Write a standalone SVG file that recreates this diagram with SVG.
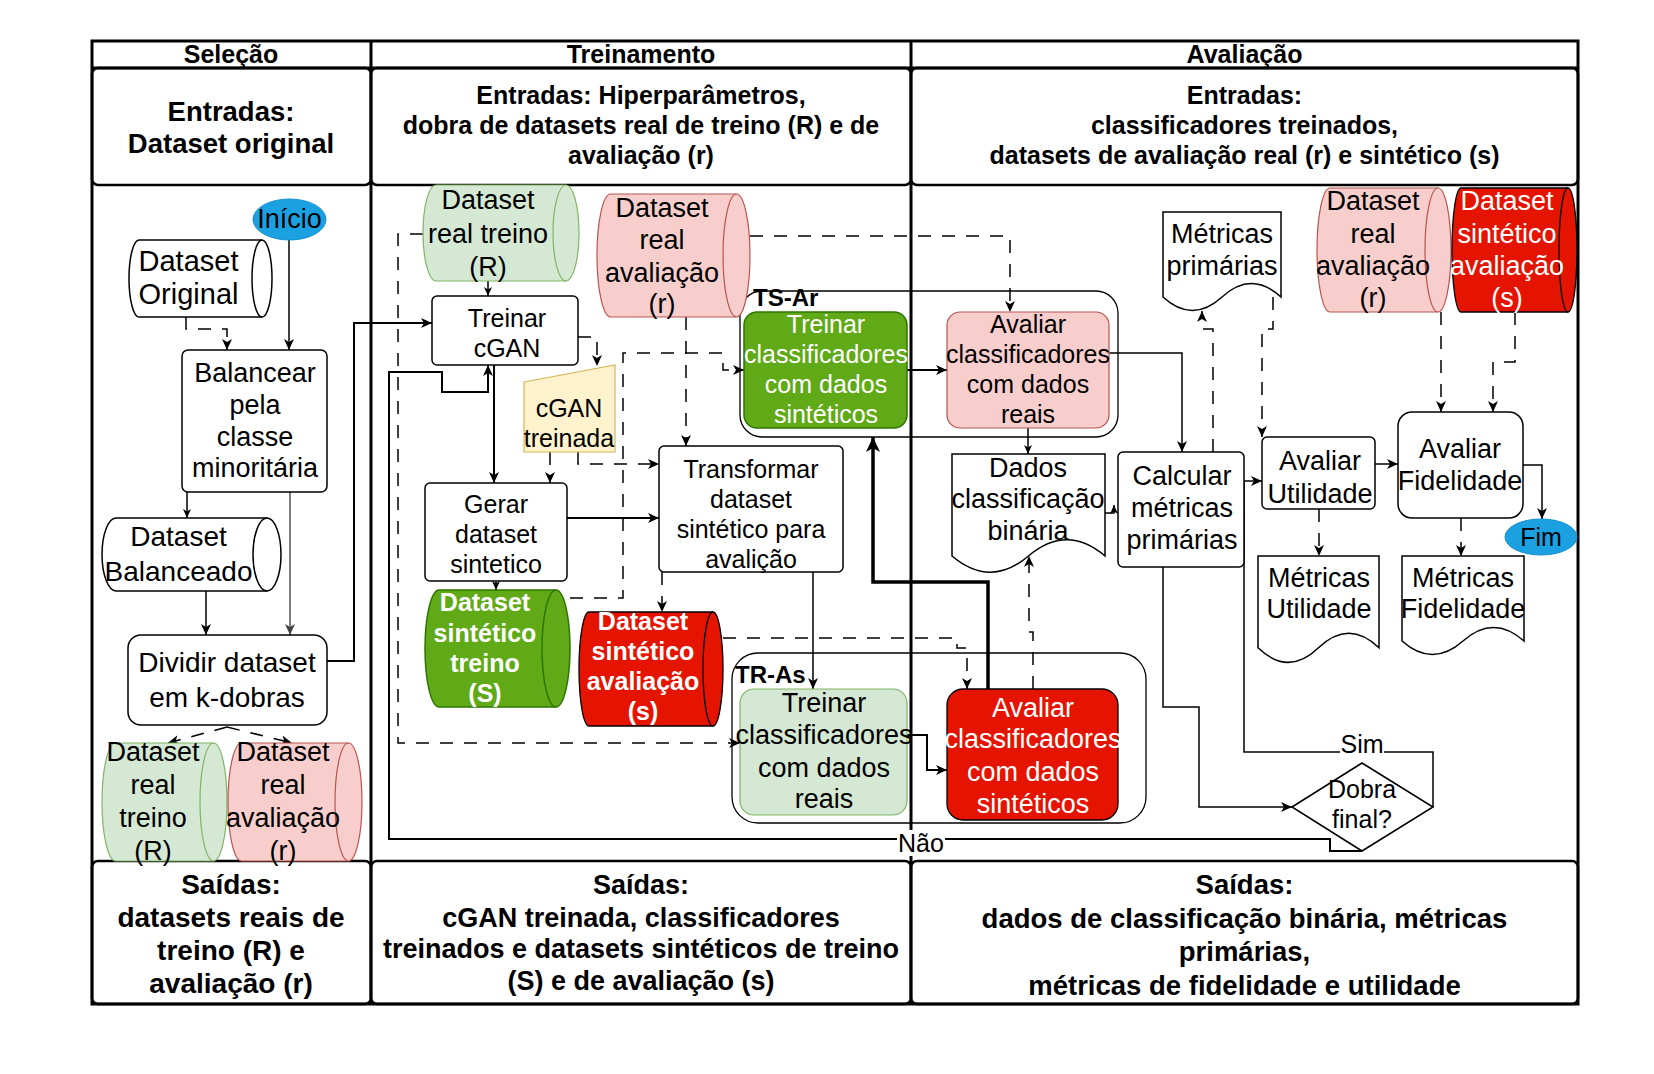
<svg xmlns="http://www.w3.org/2000/svg" width="1654" height="1074" viewBox="0 0 1654 1074">
<defs>
<style>
text{font-family:'Liberation Sans',Arial,Helvetica,sans-serif;text-anchor:middle;fill:#000}
.f25{font-size:25px}.f27{font-size:27px}.f28{font-size:28px}.f29{font-size:29px}
.b{font-weight:bold}.w{fill:#fff}.st{text-anchor:start}
.lane{fill:none;stroke:#000;stroke-width:3}
.cell{fill:#fff;stroke:#000;stroke-width:2.5}
.box{fill:#fff;stroke:#000;stroke-width:1.5}
.cont{fill:none;stroke:#000;stroke-width:1.3}
.blue{fill:#1ba1e2;stroke:#1590d0;stroke-width:1}
.pink{fill:#f8cecc;stroke:#b85450;stroke-width:1.2}
.lgreen{fill:#d5e8d4;stroke:#82b366;stroke-width:1.2}
.green{fill:#60a917;stroke:#2d7600;stroke-width:1.5}
.red{fill:#e51400;stroke:#000;stroke-width:1.3}
.yellow{fill:#fff2cc;stroke:#d6b656;stroke-width:1.2}
.inner{fill:none}
.dash{stroke-dasharray:13 11}
</style>
<marker id="arr" markerUnits="userSpaceOnUse" markerWidth="12" markerHeight="12" refX="11" refY="6" orient="auto"><path d="M0,1 L11,6 L0,11 L3,6 Z" fill="#000"/></marker>
<marker id="arrS" markerUnits="userSpaceOnUse" markerWidth="10" markerHeight="10" refX="9" refY="5" orient="auto"><path d="M0,1 L9,5 L0,9 L2.5,5 Z" fill="#000"/></marker>
<marker id="arrG" markerUnits="userSpaceOnUse" markerWidth="12" markerHeight="12" refX="11" refY="6" orient="auto"><path d="M0,1 L11,6 L0,11 L3,6 Z" fill="#444"/></marker>
<marker id="arrL" markerUnits="userSpaceOnUse" markerWidth="16" markerHeight="16" refX="15" refY="8" orient="auto"><path d="M0,1 L15,8 L0,15 L4,8 Z" fill="#000"/></marker>
</defs>
<rect width="1654" height="1074" fill="#fff"/>

<g id="lanes">
<rect x="92" y="41" width="1486" height="963" fill="#fff" stroke="none"/>
<rect class="cell" x="92" y="68" width="279" height="117" rx="6"/>
<rect class="cell" x="371" y="68" width="540" height="117" rx="6"/>
<rect class="cell" x="911" y="68" width="667" height="117" rx="6"/>
<rect class="cell" x="92" y="861" width="279" height="143" rx="6"/>
<rect class="cell" x="371" y="861" width="540" height="143" rx="6"/>
<rect class="cell" x="911" y="861" width="667" height="143" rx="6"/>
<rect class="lane" x="92" y="41" width="1486" height="963"/>
<line class="lane" x1="92" y1="68" x2="1578" y2="68"/>
<line class="lane" x1="371" y1="41" x2="371" y2="1004"/>
<line class="lane" x1="911" y1="41" x2="911" y2="1004"/>
<text class="f25 b" x="231" y="63">Seleção</text>
<text class="f25 b" x="641" y="63">Treinamento</text>
<text class="f25 b" x="1244.5" y="63">Avaliação</text>
<text class="b" style="font-size:27.5px" x="231" y="121">Entradas:</text>
<text class="b" style="font-size:27.5px" x="231" y="153">Dataset original</text>
<text class="f25 b" x="641" y="104">Entradas: Hiperparâmetros,</text>
<text class="f25 b" x="641" y="134">dobra de datasets real de treino (R) e de</text>
<text class="f25 b" x="641" y="164">avaliação (r)</text>
<text class="f25 b" x="1244.5" y="104">Entradas:</text>
<text class="f25 b" x="1244.5" y="134">classificadores treinados,</text>
<text class="f25 b" x="1244.5" y="164">datasets de avaliação real (r) e sintético (s)</text>
<text class="f28 b" x="231" y="894">Saídas:</text>
<text class="f28 b" x="231" y="927">datasets reais de</text>
<text class="f28 b" x="231" y="960">treino (R) e</text>
<text class="f28 b" x="231" y="993">avaliação (r)</text>
<text class="f27 b" x="641" y="894">Saídas:</text>
<text class="f27 b" x="641" y="927">cGAN treinada, classificadores</text>
<text class="f27 b" x="641" y="958">treinados e datasets sintéticos de treino</text>
<text class="f27 b" x="641" y="990">(S) e de avaliação (s)</text>
<text class="b" style="font-size:27.5px" x="1244.5" y="894">Saídas:</text>
<text class="b" style="font-size:27.5px" x="1244.5" y="928">dados de classificação binária, métricas</text>
<text class="b" style="font-size:27.5px" x="1244.5" y="961">primárias,</text>
<text class="b" style="font-size:27.5px" x="1244.5" y="995">métricas de fidelidade e utilidade</text>
</g>

<g id="containers">
<g id="ts-ar"><rect class="cont" x="740" y="291" width="378" height="146" rx="22"/><text class="b st" style="font-size:24px" x="753" y="306">TS-Ar</text></g>
<g id="tr-as"><rect class="cont" x="732" y="653" width="414" height="170" rx="26"/><text class="b st" style="font-size:24px" x="735" y="683">TR-As</text></g>
</g>

<g id="connectors" fill="none" stroke="#000" stroke-width="1.5">
<path d="M289,240 V350" marker-end="url(#arr)"/>
<path class="dash" d="M186,317 V329 H227 V350" marker-end="url(#arr)"/>
<path d="M187,492 V518" marker-end="url(#arrS)"/>
<path d="M290,492 V635" stroke="#555" marker-end="url(#arrG)"/>
<path d="M206,591 V635" marker-end="url(#arr)"/>
<path d="M327,661 H354 V323 H432" stroke-width="2" marker-end="url(#arr)"/>
<path class="dash" d="M227,727 L168,743" marker-end="url(#arr)"/>
<path class="dash" d="M227,727 L292,743" marker-end="url(#arr)"/>
<path d="M488,281 V296" marker-end="url(#arrS)"/>
<path class="dash" d="M423,234 H398 V743 H740" marker-end="url(#arr)"/>
<path class="dash" d="M578,337 H597 V366" marker-end="url(#arr)"/>
<path d="M494,365 V483" stroke-width="2" marker-end="url(#arr)"/>
<path class="dash" d="M550,452 V483" marker-end="url(#arr)"/>
<path class="dash" d="M578,452 V464 H659" marker-end="url(#arr)"/>
<path class="dash" d="M686,317 V446" marker-end="url(#arr)"/>
<path class="dash" d="M750,236 H1010 V312" marker-end="url(#arr)"/>
<path class="dash" d="M570,598 H623 V353 H723 V370 H744" marker-end="url(#arr)"/>
<path d="M567,518 H659" stroke-width="2" marker-end="url(#arr)"/>
<path d="M496,581 V590" marker-end="url(#arrS)"/>
<path class="dash" d="M662,572 V612" marker-end="url(#arr)"/>
<path d="M813,572 V689" marker-end="url(#arr)"/>
<path class="dash" d="M723,638 H957 V648 H967 V689" marker-end="url(#arr)"/>
<path d="M907,370 H947" stroke-width="2" marker-end="url(#arr)"/>
<path d="M907,735 H927 V770 H947" stroke-width="2" marker-end="url(#arr)"/>
<path d="M988,689 V582 H873 V437" stroke-width="3.5" marker-end="url(#arrL)"/>
<path class="dash" d="M1033,689 V632 H1029 V556" marker-end="url(#arr)"/>
<path d="M1028,428 V454" marker-end="url(#arrS)"/>
<path d="M1109,353 H1182 V452" marker-end="url(#arr)"/>
<path d="M1105,513 H1114 V505" marker-end="url(#arrS)"/>
<path class="dash" d="M1213,452 V329 H1202 V311" marker-end="url(#arr)"/>
<path class="dash" d="M1273,297 V329 H1262 V437" marker-end="url(#arr)"/>
<path d="M1433,807 V752 H1244 V481 H1262" marker-end="url(#arr)"/>
<path d="M1163,567 V707 H1199 V807 H1292" marker-end="url(#arr)"/>
<path d="M1362,851 H1330 V839 H389 V372 H442 V392 H488 V365" stroke-width="2" marker-end="url(#arr)"/>
<path d="M1375,464 H1398" marker-end="url(#arr)"/>
<path class="dash" d="M1441,312 V412" marker-end="url(#arr)"/>
<path class="dash" d="M1515,312 V362 H1493 V412" marker-end="url(#arr)"/>
<path d="M1523,465 H1542 V519" marker-end="url(#arr)"/>
<path class="dash" d="M1319,509 V556" marker-end="url(#arr)"/>
<path class="dash" d="M1461,518 V556" marker-end="url(#arr)"/>
</g>
<g id="edge-labels">
<rect x="1340" y="733" width="44" height="24" fill="#fff"/>
<text class="f25" x="1362" y="753">Sim</text>
<rect x="897" y="830" width="48" height="26" fill="#fff"/>
<text class="f25" x="921" y="852">Não</text>
</g>

<g id="nodes">
<g id="n-inicio"><ellipse class="blue" cx="289.5" cy="219.5" rx="36.5" ry="20.5"/><text class="f27" x="289.5" y="228">Início</text></g>
<g id="n-dataset-original"><path class="box" d="M139,240 H262 A10,38.5 0 0 1 262,317 H139 A10,38.5 0 0 1 139,240 Z"/><path class="box inner" d="M262,240 A10,38.5 0 0 0 262,317"/><text class="f29" x="188.5" y="271">Dataset</text><text class="f29" x="188.5" y="304">Original</text></g>
<g id="n-balancear"><rect class="box" x="182" y="350" width="145" height="142" rx="6"/><text class="f27" x="255" y="382">Balancear</text><text class="f27" x="255" y="414">pela</text><text class="f27" x="255" y="446">classe</text><text class="f27" x="255" y="477">minoritária</text></g>
<g id="n-balanceado"><path class="box" d="M116,518 H267 A14,36.5 0 0 1 267,591 H116 A14,36.5 0 0 1 116,518 Z"/><path class="box inner" d="M267,518 A14,36.5 0 0 0 267,591"/><text class="f28" x="178.5" y="546">Dataset</text><text class="f28" x="178.5" y="581">Balanceado</text></g>
<g id="n-dividir"><rect class="box" x="128" y="635" width="199" height="90" rx="13"/><text class="f28" x="227" y="672">Dividir dataset</text><text class="f28" x="227" y="707">em k-dobras</text></g>
<g id="n-sel-R"><path class="lgreen" d="M115.5,743 H213.5 A13.5,59 0 0 1 213.5,861 H115.5 A13.5,59 0 0 1 115.5,743 Z"/><path class="lgreen inner" d="M213.5,743 A13.5,59 0 0 0 213.5,861"/><text class="f27" x="153" y="761">Dataset</text><text class="f27" x="153" y="794">real</text><text class="f27" x="153" y="827">treino</text><text class="f27" x="153" y="860">(R)</text></g>
<g id="n-sel-r"><path class="pink" d="M241.5,743 H348.5 A13.5,59 0 0 1 348.5,861 H241.5 A13.5,59 0 0 1 241.5,743 Z"/><path class="pink inner" d="M348.5,743 A13.5,59 0 0 0 348.5,861"/><text class="f27" x="283" y="761">Dataset</text><text class="f27" x="283" y="794">real</text><text class="f27" x="283" y="827">avaliação</text><text class="f27" x="283" y="860">(r)</text></g>

<g id="n-tr-R"><path class="lgreen" d="M436,185 H566 A13,48 0 0 1 566,281 H436 A13,48 0 0 1 436,185 Z"/><path class="lgreen inner" d="M566,185 A13,48 0 0 0 566,281"/><text class="f27" x="488" y="209">Dataset</text><text class="f27" x="488" y="243">real treino</text><text class="f27" x="488" y="276">(R)</text></g>
<g id="n-tr-r"><path class="pink" d="M610.5,194 H736.5 A13.5,61.5 0 0 1 736.5,317 H610.5 A13.5,61.5 0 0 1 610.5,194 Z"/><path class="pink inner" d="M736.5,194 A13.5,61.5 0 0 0 736.5,317"/><text class="f27" x="662" y="217">Dataset</text><text class="f27" x="662" y="249">real</text><text class="f27" x="662" y="282">avaliação</text><text class="f27" x="662" y="313">(r)</text></g>
<g id="n-treinar-cgan"><rect class="box" x="432" y="296" width="146" height="69" rx="5"/><text class="f25" x="507" y="327">Treinar</text><text class="f25" x="507" y="357">cGAN</text></g>
<g id="n-cgan-treinada"><path class="yellow" d="M524,382 L615,365 L615,452 L524,452 Z"/><text class="f25" x="569" y="417">cGAN</text><text class="f25" x="569" y="447">treinada</text></g>
<g id="n-gerar"><rect class="box" x="425" y="483" width="142" height="98" rx="5"/><text class="f25" x="496" y="513">Gerar</text><text class="f25" x="496" y="543">dataset</text><text class="f25" x="496" y="573">sintetico</text></g>
<g id="n-transformar"><rect class="box" x="659" y="446" width="184" height="126" rx="5"/><text class="f25" x="751" y="478">Transformar</text><text class="f25" x="751" y="508">dataset</text><text class="f25" x="751" y="538">sintético para</text><text class="f25" x="751" y="568">avalição</text></g>
<g id="n-sint-S"><path class="green" d="M439,590 H556 A14,58.5 0 0 1 556,707 H439 A14,58.5 0 0 1 439,590 Z"/><path class="green inner" d="M556,590 A14,58.5 0 0 0 556,707"/><text class="f25 b w" x="485" y="611">Dataset</text><text class="f25 b w" x="485" y="642">sintético</text><text class="f25 b w" x="485" y="672">treino</text><text class="f25 b w" x="485" y="702">(S)</text></g>
<g id="n-sint-s"><path class="red" d="M589,612 H713 A10,57 0 0 1 713,726 H589 A10,57 0 0 1 589,612 Z"/><path class="red inner" d="M713,612 A10,57 0 0 0 713,726"/><text class="f25 b w" x="643" y="630">Dataset</text><text class="f25 b w" x="643" y="660">sintético</text><text class="f25 b w" x="643" y="690">avaliação</text><text class="f25 b w" x="643" y="720">(s)</text></g>
<g id="n-treinar-sint"><rect class="green" x="744" y="312" width="163" height="116" rx="13"/><text class="f25 w" x="826" y="333">Treinar</text><text class="f25 w" x="826" y="363">classificadores</text><text class="f25 w" x="826" y="393">com dados</text><text class="f25 w" x="826" y="423">sintéticos</text></g>
<g id="n-avaliar-reais"><rect class="pink" x="947" y="312" width="162" height="116" rx="13"/><text class="f25" x="1028" y="333">Avaliar</text><text class="f25" x="1028" y="363">classificadores</text><text class="f25" x="1028" y="393">com dados</text><text class="f25" x="1028" y="423">reais</text></g>
<g id="n-treinar-reais"><rect class="lgreen" x="740" y="689" width="167" height="126" rx="14"/><text class="f27" x="824" y="712">Treinar</text><text class="f27" x="824" y="744">classificadores</text><text class="f27" x="824" y="777">com dados</text><text class="f27" x="824" y="808">reais</text></g>
<g id="n-avaliar-sint"><rect class="red" x="947" y="689" width="171" height="131" rx="16"/><text class="f27 w" x="1033" y="717">Avaliar</text><text class="f27 w" x="1033" y="748">classificadores</text><text class="f27 w" x="1033" y="781">com dados</text><text class="f27 w" x="1033" y="813">sintéticos</text></g>

<g id="n-dados-bin"><path class="box" d="M952,454 H1105 V556 Q1066.75,523.6 1028.5,556 Q990.25,588.4 952,556 Z"/><text class="f27" x="1028" y="477">Dados</text><text class="f27" x="1028" y="508">classificação</text><text class="f27" x="1028" y="540">binária</text></g>
<g id="n-metricas-prim"><path class="box" d="M1163,212 H1281 V297 Q1251.5,270 1222,297 Q1192.5,324 1163,297 Z"/><text class="f27" x="1222" y="243">Métricas</text><text class="f27" x="1222" y="275">primárias</text></g>
<g id="n-av-r"><path class="pink" d="M1330,188 H1438 A13,62 0 0 1 1438,312 H1330 A13,62 0 0 1 1330,188 Z"/><path class="pink inner" d="M1438,188 A13,62 0 0 0 1438,312"/><text class="f27" x="1373" y="210">Dataset</text><text class="f27" x="1373" y="243">real</text><text class="f27" x="1373" y="275">avaliação</text><text class="f27" x="1373" y="307">(r)</text></g>
<g id="n-av-s"><path class="red" d="M1461,188 H1568 A9,62 0 0 1 1568,312 H1461 A9,62 0 0 1 1461,188 Z"/><path class="red inner" d="M1568,188 A9,62 0 0 0 1568,312"/><text class="f27 w" x="1507" y="210">Dataset</text><text class="f27 w" x="1507" y="243">sintético</text><text class="f27 w" x="1507" y="275">avaliação</text><text class="f27 w" x="1507" y="307">(s)</text></g>
<g id="n-calcular"><rect class="box" x="1118" y="452" width="126" height="115" rx="5"/><text class="f27" x="1182" y="485">Calcular</text><text class="f27" x="1182" y="517">métricas</text><text class="f27" x="1182" y="549">primárias</text></g>
<g id="n-av-util"><rect class="box" x="1262" y="437" width="113" height="72" rx="5"/><text class="f27" x="1320" y="470">Avaliar</text><text class="f27" x="1320" y="503">Utilidade</text></g>
<g id="n-av-fid"><rect class="box" x="1398" y="412" width="125" height="106" rx="14"/><text class="f27" x="1460" y="458">Avaliar</text><text class="f27" x="1460" y="490">Fidelidade</text></g>
<g id="n-fim"><ellipse class="blue" cx="1541" cy="537" rx="36" ry="18"/><text class="f25" x="1541" y="546">Fim</text></g>
<g id="n-met-util"><path class="box" d="M1258,556 H1379 V647.8 Q1348.75,618.6 1318.5,647.8 Q1288.25,677 1258,647.8 Z"/><text class="f27" x="1319" y="587">Métricas</text><text class="f27" x="1319" y="618">Utilidade</text></g>
<g id="n-met-fid"><path class="box" d="M1402,556 H1524 V641 Q1493.5,614 1463,641 Q1432.5,668 1402,641 Z"/><text class="f27" x="1463" y="587">Métricas</text><text class="f27" x="1463" y="618">Fidelidade</text></g>
<g id="n-dobra"><path class="box" d="M1292,807 L1362,763 L1433,807 L1362,851 Z"/><text class="f25" x="1362" y="798">Dobra</text><text class="f25" x="1362" y="828">final?</text></g>
</g>
</svg>
